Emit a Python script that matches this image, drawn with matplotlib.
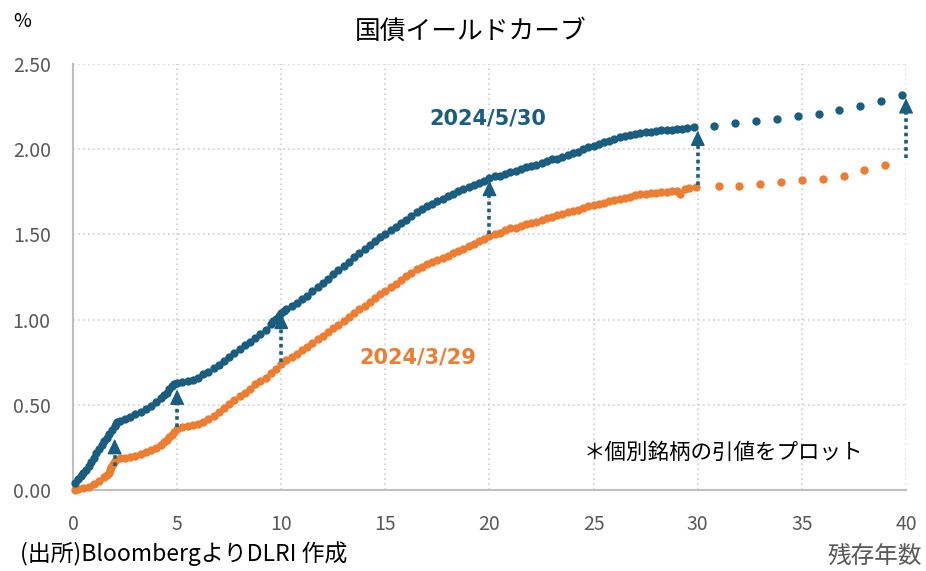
import matplotlib
matplotlib.use('Agg')
import matplotlib.pyplot as plt

plt.rcParams['font.family'] = ['Noto Sans CJK JP', 'DejaVu Sans']

# 2024/5/30 (dense part, bond by bond)
new_x = [0.1, 0.25, 0.375, 0.5, 0.625, 0.75, 0.875, 1.0, 1.125, 1.25, 1.375, 1.5, 1.625, 1.75, 1.875,
         2.0, 2.05, 2.1, 2.25, 2.5, 2.75, 3.0, 3.25, 3.5, 3.75,
         4.0, 4.25, 4.375, 4.5, 4.625, 4.75, 4.875, 5.0, 5.25, 5.5, 5.75, 6.0, 6.25, 6.5, 6.75, 7.0, 7.25, 7.5, 7.75,
         8.0, 8.25, 8.5, 8.75, 9.0, 9.25, 9.5, 9.625, 9.75, 9.875, 10.0, 10.125, 10.25, 10.5, 10.75,
         11.0, 11.25, 11.5, 11.75,
         12.0, 12.25, 12.5, 12.75, 13.0, 13.25, 13.5, 13.75, 14.0, 14.25, 14.5, 14.75, 15.0, 15.25, 15.5, 15.75,
         16.0, 16.25, 16.5, 16.75, 17.0, 17.25, 17.5, 17.75, 18.0, 18.25, 18.5, 18.75, 19.0, 19.25, 19.5, 19.75,
         20.0, 20.25, 20.5, 20.75, 21.0, 21.25, 21.5, 21.75, 22.0, 22.25, 22.5, 22.75, 23.0, 23.25, 23.5, 23.75,
         24.0, 24.25, 24.5, 24.75, 25.0, 25.25, 25.5, 25.75, 26.0, 26.25, 26.5, 26.75, 27.0, 27.25, 27.5, 27.75,
         28.0, 28.25, 28.5, 28.75, 29.0, 29.25, 29.5, 29.8]
new_y = [0.04, 0.065, 0.08, 0.10, 0.12, 0.14, 0.165, 0.19, 0.215, 0.24, 0.262, 0.285, 0.307, 0.33, 0.352,
         0.375, 0.39, 0.40, 0.405, 0.415, 0.43, 0.445, 0.46, 0.475, 0.495,
         0.515, 0.54, 0.555, 0.57, 0.59, 0.61, 0.622, 0.63, 0.635, 0.64, 0.645, 0.66, 0.68, 0.695, 0.715, 0.735, 0.755, 0.78, 0.805,
         0.83, 0.85, 0.87, 0.89, 0.915, 0.94, 0.975, 0.99, 1.005, 1.02, 1.037, 1.05, 1.06, 1.08, 1.10,
         1.12, 1.14, 1.165, 1.19,
         1.215, 1.24, 1.265, 1.29, 1.315, 1.34, 1.365, 1.39, 1.415, 1.44, 1.46, 1.485, 1.505, 1.525, 1.545, 1.565,
         1.585, 1.61, 1.63, 1.65, 1.665, 1.68, 1.695, 1.71, 1.725, 1.74, 1.755, 1.765, 1.78, 1.79, 1.80, 1.815,
         1.83, 1.84, 1.845, 1.855, 1.865, 1.875, 1.885, 1.895, 1.90, 1.91, 1.92, 1.93, 1.94, 1.945, 1.955, 1.965,
         1.975, 1.985, 2.00, 2.01, 2.02, 2.03, 2.04, 2.05, 2.06, 2.07, 2.075, 2.085, 2.09, 2.095, 2.10, 2.10,
         2.105, 2.11, 2.11, 2.115, 2.12, 2.12, 2.125, 2.13]
# 2024/5/30 super-long bonds
new_long_x = [30.8, 31.8, 32.8, 33.8, 34.8, 35.8, 36.8, 37.8, 38.8, 39.8]
new_long_y = [2.136, 2.152, 2.167, 2.179, 2.195, 2.208, 2.230, 2.255, 2.283, 2.318]

# 2024/3/29
old_x = [0.1, 0.25, 0.5, 0.75, 1.0, 1.25, 1.5, 1.625, 1.75, 1.8, 1.85, 1.925, 2.0, 2.25, 2.5, 2.75, 3.0, 3.25, 3.5, 3.75,
         4.0, 4.25, 4.375, 4.5, 4.625, 4.75, 4.875, 5.0, 5.25, 5.5, 5.75, 6.0, 6.25, 6.5, 6.75, 7.0, 7.25, 7.5, 7.75,
         8.0, 8.25, 8.5, 8.75, 9.0, 9.25, 9.5, 9.75, 10.0, 10.25, 10.5, 10.75, 11.0, 11.25, 11.5, 11.75,
         12.0, 12.25, 12.5, 12.75, 13.0, 13.25, 13.5, 13.75, 14.0, 14.25, 14.5, 14.75, 15.0, 15.25, 15.5, 15.75,
         16.0, 16.25, 16.5, 16.75, 17.0, 17.25, 17.5, 17.75, 18.0, 18.25, 18.5, 18.75, 19.0, 19.25, 19.5, 19.75,
         20.0, 20.25, 20.5, 20.75, 21.0, 21.25, 21.5, 21.75, 22.0, 22.25, 22.5, 22.75, 23.0, 23.25, 23.5, 23.75,
         24.0, 24.25, 24.5, 24.75, 25.0, 25.25, 25.5, 25.75, 26.0, 26.25, 26.5, 26.75, 27.0, 27.25, 27.5, 27.75,
         28.0, 28.25, 28.5, 28.75, 29.0, 29.15, 29.4, 29.6, 29.9]
old_y = [0.00, 0.005, 0.01, 0.02, 0.035, 0.055, 0.075, 0.085, 0.10, 0.115, 0.135, 0.155, 0.17, 0.185, 0.19, 0.195, 0.20, 0.21, 0.225, 0.235,
         0.245, 0.265, 0.28, 0.295, 0.31, 0.325, 0.34, 0.355, 0.37, 0.375, 0.38, 0.39, 0.40, 0.415, 0.435, 0.455, 0.48, 0.505, 0.53,
         0.55, 0.57, 0.595, 0.62, 0.64, 0.66, 0.685, 0.71, 0.74, 0.76, 0.78, 0.80, 0.82, 0.84, 0.865, 0.885,
         0.905, 0.925, 0.95, 0.97, 0.99, 1.015, 1.04, 1.06, 1.08, 1.105, 1.125, 1.15, 1.17, 1.19, 1.21, 1.235,
         1.255, 1.275, 1.295, 1.31, 1.325, 1.34, 1.35, 1.36, 1.375, 1.39, 1.40, 1.415, 1.43, 1.445, 1.46, 1.475,
         1.49, 1.50, 1.51, 1.525, 1.535, 1.54, 1.55, 1.56, 1.565, 1.575, 1.585, 1.595, 1.605, 1.615, 1.62, 1.63,
         1.64, 1.645, 1.655, 1.665, 1.67, 1.68, 1.685, 1.695, 1.70, 1.71, 1.715, 1.72, 1.73, 1.735, 1.74, 1.745,
         1.745, 1.75, 1.75, 1.755, 1.755, 1.74, 1.765, 1.775, 1.78]
old_long_x = [31, 32, 33, 34, 35, 36, 37, 38, 39]
old_long_y = [1.782, 1.786, 1.798, 1.809, 1.819, 1.825, 1.845, 1.876, 1.905]

# arrows: maturity, from (old), to (new)
arrow_x = [2, 5, 10, 20, 30, 40]
arrow_from = [0.14, 0.37, 0.75, 1.50, 1.79, 1.95]
arrow_to = [0.30, 0.59, 1.035, 1.815, 2.11, 2.30]

xticks = [0, 5, 10, 15, 20, 25, 30, 35, 40]
yticks = [0.0, 0.5, 1.0, 1.5, 2.0, 2.5]

blue = '#195E80'
orange = '#ED7D31'
grey = '#595959'

fig = plt.figure(figsize=(9.26, 5.71), dpi=100)
ax = fig.add_axes([0.0788, 0.1419, 0.8996, 0.746])

ms = 6.0
ax.plot(old_x, old_y, 'o', color=orange, ms=ms, mew=0, clip_on=False, zorder=3)
ax.plot(old_long_x, old_long_y, 'o', color=orange, ms=ms, mew=0, clip_on=False, zorder=3)
ax.plot(new_x, new_y, 'o', color=blue, ms=ms, mew=0, clip_on=False, zorder=4)
ax.plot(new_long_x, new_long_y, 'o', color=blue, ms=ms, mew=0, clip_on=False, zorder=4)

head = 0.075  # arrow head length in data units
for x, a, b in zip(arrow_x, arrow_from, arrow_to):
    ax.plot([x, x], [a, b - head + 0.01], color=blue, lw=2.6, dashes=(1, 1),
            clip_on=False, zorder=5)
    ax.annotate('', xy=(x, b), xytext=(x, b - head),
                arrowprops=dict(arrowstyle='-|>,head_length=0.95,head_width=0.45',
                                color=blue, lw=1, shrinkA=0, shrinkB=0),
                annotation_clip=False, zorder=5)

ax.set_xlim(0, 40)
ax.set_ylim(0, 2.5)
ax.set_xticks(xticks)
ax.set_xticklabels([str(t) for t in xticks])
ax.set_yticks(yticks)
ax.set_yticklabels([f'{t:.2f}' for t in yticks])
ax.tick_params(length=0, labelsize=14, colors=grey)
ax.tick_params(axis='x', pad=17)
ax.tick_params(axis='y', pad=16)

ax.grid(True, color='#D0D0D0', lw=1.2, ls=(0, (1, 2)))
ax.set_axisbelow(True)
for s in ['top', 'right']:
    ax.spines[s].set_visible(False)
for s in ['left', 'bottom']:
    ax.spines[s].set_color('#BFBFBF')
    ax.spines[s].set_linewidth(1.5)

ax.text(19.93, 2.183, '2024/5/30', color=blue, fontsize=15, fontweight='bold',
        family='DejaVu Sans', ha='center', va='center')
ax.text(16.57, 0.775, '2024/3/29', color=orange, fontsize=15, fontweight='bold',
        family='DejaVu Sans', ha='center', va='center')
ax.text(24.5, 0.217, '＊個別銘柄の引値をプロット', color='black', fontsize=15.5,
        ha='left', va='center')

fig.text(0.508, 0.944, '国債イールドカーブ', fontsize=18.5, ha='center', va='center', color='black')
fig.text(0.024, 0.962, '%', fontsize=14, ha='center', va='center', color='black')
fig.text(0.022, 0.031, '(出所)BloombergよりDLRI 作成', fontsize=16.5, ha='left', va='center', color='black')
fig.text(0.996, 0.024, '残存年数', fontsize=17, ha='right', va='center', color=grey)

fig.savefig('out.png', dpi=100)
